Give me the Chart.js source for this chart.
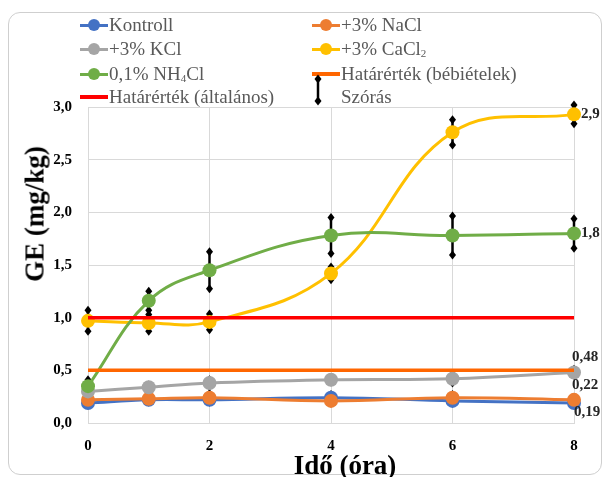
<!DOCTYPE html>
<html>
<head>
<meta charset="utf-8">
<script src="https://cdn.jsdelivr.net/npm/chart.js@4"></script>
<style>
  body { margin: 0; background: #fff; }
  #wrap { position: relative; width: 605px; height: 477px; overflow: hidden; font-family: "Liberation Serif", "Times New Roman", serif; }
  #frame { position: absolute; left: 8px; top: 12px; width: 592px; height: 461px; border: 1px solid #cfcfcf; border-radius: 12px; }
  #chart { position: absolute; left: 0; top: 0; }
  .leg { position: absolute; height: 24px; display: flex; align-items: center; font-family: "Liberation Serif", serif; font-size: 19px; color: #595959; white-space: nowrap; }
  .leg sub { font-size: 11px; vertical-align: -2px; }
  .mk { position: relative; width: 28px; height: 24px; margin-right: 1px; }
  .mk .ln { position: absolute; left: 0; right: 0; top: 10.5px; height: 3px; }
  .mk .dt { position: absolute; left: 8px; top: 6px; width: 12px; height: 12px; border-radius: 50%; }
  #ytitle { position: absolute; left: 35px; top: 214px; transform: translate(-50%, -50%) rotate(-90deg); font-family: "Liberation Serif", serif; font-weight: bold; font-size: 27px; color: #000; white-space: nowrap; }
  #xtitle { position: absolute; left: 345px; top: 465px; transform: translate(-50%, -50%); font-family: "Liberation Serif", serif; font-weight: bold; font-size: 27px; color: #000; white-space: nowrap; }
</style>
</head>
<body>
<div id="wrap">
  <div id="frame"></div>
  <canvas id="chart" width="605" height="477"></canvas>
  <div id="legend"></div>
  <div id="ytitle">GE (mg/kg)</div>
  <div id="xtitle">Idő (óra)</div>
</div>
<script>
// Time points (hours)
const hours = [0, 1, 2, 4, 6, 8];

// GE values (mg/kg)
const kontroll = [0.19, 0.22, 0.22, 0.24, 0.21, 0.19];
const nacl     = [0.22, 0.23, 0.24, 0.21, 0.24, 0.22];
const kcl      = [0.30, 0.34, 0.38, 0.41, 0.42, 0.48];
const cacl2    = [0.97, 0.95, 0.96, 1.42, 2.76, 2.93];
const nh4cl    = [0.35, 1.16, 1.45, 1.78, 1.78, 1.80];

// Standard deviations
const kontrollSd = [0.02, 0.02, 0.02, 0.03, 0.02, 0.02];
const naclSd     = [0.02, 0.02, 0.04, 0.02, 0.03, 0.02];
const kclSd      = [0.02, 0.02, 0.03, 0.02, 0.04, 0.03];
const cacl2Sd    = [0.10, 0.08, 0.075, 0.06, 0.12, 0.09];
const nh4clSd    = [0.06, 0.09, 0.175, 0.17, 0.185, 0.14];

// Limit values
const limitGeneral = 1.0;
const limitBaby = 0.5;

// Labels at the last point
const endLabels = ['0,19', '0,22', '0,48', '2,9', '1,8'];

const yTicks = [0, 0.5, 1, 1.5, 2, 2.5, 3];

const toPoints = (vals) => vals.map((v, i) => ({ x: hours[i], y: v }));

const series = [
    { name: 'Kontroll', color: '#4472C4', data: kontroll, sd: kontrollSd, label: endLabels[0], pos: 'below' },
    { name: '+3% NaCl', color: '#ED7D31', data: nacl, sd: naclSd, label: endLabels[1], pos: 'above' },
    { name: '+3% KCl', color: '#A5A5A5', data: kcl, sd: kclSd, label: endLabels[2], pos: 'above' },
    { name: '+3% CaCl<sub>2</sub>', color: '#FFC000', data: cacl2, sd: cacl2Sd, label: endLabels[3], pos: 'right' },
    { name: '0,1% NH<sub>4</sub>Cl', color: '#70AD47', data: nh4cl, sd: nh4clSd, label: endLabels[4], pos: 'right' }
];

const datasets = series.map((s, i) => ({
    label: s.name,
    data: toPoints(s.data),
    sd: s.sd,
    endLabel: s.label,
    endPos: s.pos,
    borderColor: s.color,
    backgroundColor: s.color,
    pointBackgroundColor: s.color,
    pointBorderColor: s.color,
    pointRadius: 7,
    pointBorderWidth: 0,
    borderWidth: 3,
    tension: 0.4,
    clip: false,
    order: 10 - i
}));

datasets.push({
    label: 'Határérték (bébiételek)',
    data: [{ x: 0, y: limitBaby }, { x: 8, y: limitBaby }],
    borderColor: '#FF6600',
    borderWidth: 3.5,
    pointRadius: 0,
    order: 2
});
datasets.push({
    label: 'Határérték (általános)',
    data: [{ x: 0, y: limitGeneral }, { x: 8, y: limitGeneral }],
    borderColor: '#FF0000',
    borderWidth: 3.5,
    pointRadius: 0,
    order: 1
});

// Error bars drawn under the points
const errorBars = {
    id: 'errorBars',
    beforeDatasetsDraw(chart) {
        const ctx = chart.ctx;
        const yScale = chart.scales.y;
        ctx.save();
        chart.data.datasets.forEach((ds, di) => {
            if (!ds.sd) return;
            const meta = chart.getDatasetMeta(di);
            meta.data.forEach((pt, i) => {
                const v = ds.data[i].y;
                const top = yScale.getPixelForValue(v + ds.sd[i]);
                const bot = yScale.getPixelForValue(v - ds.sd[i]);
                ctx.strokeStyle = '#000';
                ctx.lineWidth = 2.5;
                ctx.beginPath();
                ctx.moveTo(pt.x, top);
                ctx.lineTo(pt.x, bot);
                ctx.stroke();
                ctx.fillStyle = '#000';
                [top, bot].forEach(y => {
                    ctx.beginPath();
                    ctx.moveTo(pt.x, y - 4.5);
                    ctx.lineTo(pt.x + 3.5, y);
                    ctx.lineTo(pt.x, y + 4.5);
                    ctx.lineTo(pt.x - 3.5, y);
                    ctx.closePath();
                    ctx.fill();
                });
            });
        });
        ctx.restore();
    }
};

// Value labels at the last point
const endLabelPlugin = {
    id: 'endLabels',
    afterDatasetsDraw(chart) {
        const ctx = chart.ctx;
        ctx.save();
        ctx.font = 'bold 15px "Liberation Serif", serif';
        ctx.fillStyle = '#262626';
        ctx.textBaseline = 'middle';
        chart.data.datasets.forEach((ds, di) => {
            if (!ds.endLabel) return;
            const meta = chart.getDatasetMeta(di);
            const pt = meta.data[meta.data.length - 1];
            if (ds.endPos === 'right') {
                ctx.textAlign = 'left';
                ctx.fillText(ds.endLabel, pt.x + 7, pt.y);
            } else if (ds.endPos === 'above') {
                ctx.textAlign = 'center';
                ctx.fillText(ds.endLabel, pt.x + 11, pt.y - 15);
            } else {
                ctx.textAlign = 'center';
                ctx.fillText(ds.endLabel, pt.x + 13, pt.y + 9);
            }
        });
        ctx.restore();
    }
};

const tickFont = { family: '"Liberation Serif", serif', size: 15, weight: 'bold' };

new Chart(document.getElementById('chart'), {
    type: 'line',
    data: { datasets },
    options: {
        responsive: false,
        animation: false,
        layout: { padding: { left: 0, right: 31, top: 107, bottom: 0 } },
        plugins: { legend: { display: false }, tooltip: { enabled: false } },
        scales: {
            x: {
                type: 'linear',
                min: 0,
                max: 8,
                ticks: { stepSize: 2, color: '#000', font: tickFont, padding: 14 },
                grid: { color: '#d9d9d9', lineWidth: 1, drawTicks: false },
                border: { color: '#d9d9d9' },
                afterFit(scale) { scale.height = 54; }
            },
            y: {
                min: 0,
                max: 3,
                afterBuildTicks(scale) { scale.ticks = yTicks.map(v => ({ value: v })); },
                ticks: {
                    color: '#000',
                    font: tickFont,
                    padding: 16,
                    callback: (v) => v.toFixed(1).replace('.', ',')
                },
                grid: { color: '#d9d9d9', lineWidth: 1, drawTicks: false },
                border: { display: false },
                afterFit(scale) { scale.width = 88; }
            }
        }
    },
    plugins: [errorBars, endLabelPlugin]
});

// Legend (two columns, like the original)
const legendItems = [
    { html: series[0].name, color: series[0].color, type: 'dot', col: 0, row: 0 },
    { html: series[1].name, color: series[1].color, type: 'dot', col: 1, row: 0 },
    { html: series[2].name, color: series[2].color, type: 'dot', col: 0, row: 1 },
    { html: series[3].name, color: series[3].color, type: 'dot', col: 1, row: 1 },
    { html: series[4].name, color: series[4].color, type: 'dot', col: 0, row: 2 },
    { html: 'Határérték (bébiételek)', color: '#FF6600', type: 'line', col: 1, row: 2 },
    { html: 'Határérték (általános)', color: '#FF0000', type: 'line', col: 0, row: 3 },
    { html: 'Szórás', color: '#000', type: 'err', col: 1, row: 3 }
];
const colX = [80, 312];
const rowY = [13, 37, 62, 85];
const legendEl = document.getElementById('legend');
legendItems.forEach(it => {
    const d = document.createElement('div');
    d.className = 'leg';
    d.style.left = colX[it.col] + 'px';
    d.style.top = rowY[it.row] + 'px';
    let mk = '';
    if (it.type === 'dot') {
        mk = `<div class="mk"><div class="ln" style="background:${it.color}"></div><div class="dt" style="background:${it.color}"></div></div>`;
    } else if (it.type === 'line') {
        mk = `<div class="mk"><div class="ln" style="background:${it.color};height:4px;top:10px"></div></div>`;
    } else {
        mk = `<div class="mk"><svg width="28" height="24" style="position:absolute;left:0;top:0;overflow:visible">
              <line x1="6" y1="-6" x2="6" y2="16" stroke="#000" stroke-width="2.5"/>
              <polygon points="6,-10.5 9.5,-6 6,-1.5 2.5,-6" fill="#000"/>
              <polygon points="6,11.5 9.5,16 6,20.5 2.5,16" fill="#000"/></svg></div>`;
    }
    d.innerHTML = mk + `<span>${it.html}</span>`;
    legendEl.appendChild(d);
});
</script>
</body>
</html>
